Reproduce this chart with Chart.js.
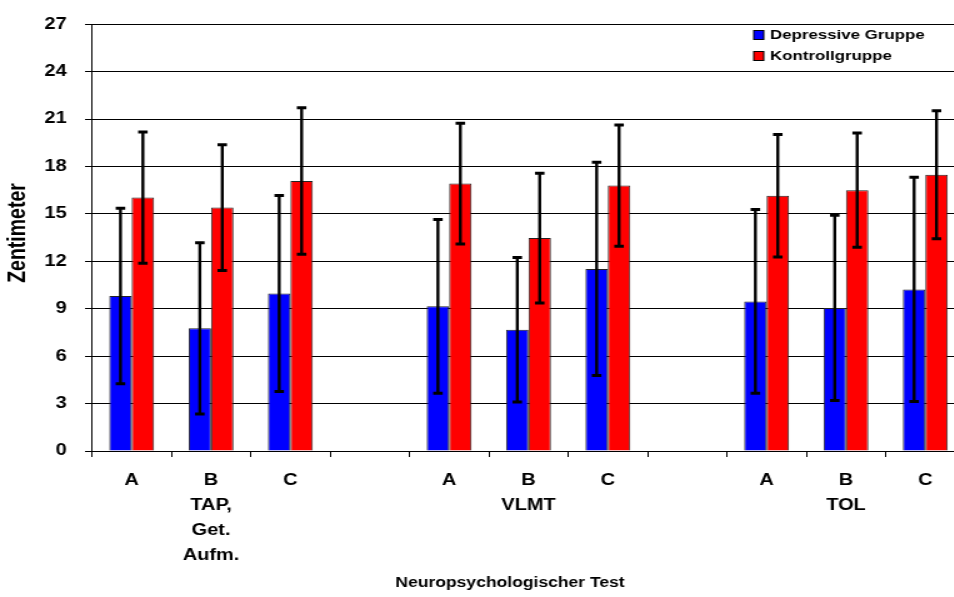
<!DOCTYPE html>
<html>
<head>
<meta charset="utf-8">
<script src="https://cdn.jsdelivr.net/npm/chart.js@4/dist/chart.umd.min.js"></script>
<style>
  html, body { margin: 0; padding: 0; background: #fff; overflow: hidden; width: 954px; height: 597px; }
  #wrap { width: 772px; height: 597px; transform: scaleX(1.25); transform-origin: 0 0; }
</style>
</head>
<body>
<div id="wrap"><canvas id="chart" width="772" height="597"></canvas></div>
<script>
// Category slots (empty slots separate the three tests)
const tickLabels = [
  ['A'], ['B', 'TAP,', 'Get.', 'Aufm.'], ['C'], [''],
  ['A'], ['B', 'VLMT'], ['C'], [''],
  ['A'], ['B', 'TOL'], ['C']
];

const seriesNames = ['Depressive Gruppe', 'Kontrollgruppe'];
const xTitle = 'Neuropsychologischer Test';
const yTitle = 'Zentimeter';

// Means and standard deviations (cm)
const depressiveMeans = [9.8, 7.76, 9.96, null, 9.15, 7.67, 11.52, null, 9.46, 9.05, 10.22];
const depressiveSD    = [5.55, 5.42, 6.2, null, 5.49, 4.57, 6.75, null, 5.81, 5.86, 7.09];
const controlMeans    = [16.03, 15.4, 17.08, null, 16.92, 13.47, 16.79, null, 16.15, 16.5, 17.48];
const controlSD       = [4.15, 3.98, 4.63, null, 3.82, 4.1, 3.84, null, 3.87, 3.61, 4.05];

const yTicks = { min: 0, max: 27, step: 3 };

const FONT = '"Liberation Sans", Arial, Helvetica, sans-serif';

// Error bars (mean ± SD) drawn on top of each bar
const errorBars = {
  id: 'errorBars',
  afterDatasetsDraw(chart) {
    const ctx = chart.ctx;
    const y = chart.scales.y;
    chart.data.datasets.forEach((ds, di) => {
      const meta = chart.getDatasetMeta(di);
      meta.data.forEach((bar, i) => {
        const m = ds.data[i];
        const sd = ds.errors[i];
        if (m == null || sd == null) return;
        const x = bar.x;
        const yTop = y.getPixelForValue(m + sd);
        const yBot = y.getPixelForValue(m - sd);
        ctx.save();
        ctx.strokeStyle = '#000';
        ctx.lineWidth = 2.4;
        ctx.beginPath();
        ctx.moveTo(x, yTop);
        ctx.lineTo(x, yBot);
        ctx.stroke();
        ctx.lineWidth = 3;
        ctx.beginPath();
        ctx.moveTo(x - 3.8, yTop); ctx.lineTo(x + 3.8, yTop);
        ctx.moveTo(x - 3.8, yBot); ctx.lineTo(x + 3.8, yBot);
        ctx.stroke();
        ctx.restore();
      });
    });
  }
};

// Legend inside the plot (top right) and the two axis titles
const annotations = {
  id: 'annotations',
  afterDraw(chart) {
    const ctx = chart.ctx;
    ctx.save();
    ctx.font = 'bold 13.5px ' + FONT;
    ctx.textBaseline = 'middle';
    ctx.textAlign = 'left';
    chart.data.datasets.forEach((ds, i) => {
      const cy = 35 + i * 21;
      ctx.fillStyle = ds.backgroundColor;
      ctx.fillRect(603, cy - 4.5, 8, 9);
      ctx.strokeStyle = '#000';
      ctx.lineWidth = 1;
      ctx.strokeRect(603, cy - 4.5, 8, 9);
      ctx.fillStyle = '#000';
      ctx.fillText(ds.label, 616, cy + 0.5);
    });

    ctx.fillStyle = '#000';
    ctx.textAlign = 'center';
    ctx.font = 'bold 14px ' + FONT;
    ctx.fillText(xTitle, 408, 583);

    ctx.font = 'bold 19.5px ' + FONT;
    ctx.translate(14.6, 233);
    ctx.rotate(-Math.PI / 2);
    ctx.fillText(yTitle, 0, 0);
    ctx.restore();
  }
};

new Chart(document.getElementById('chart'), {
  type: 'bar',
  data: {
    labels: tickLabels,
    datasets: [
      {
        label: seriesNames[0],
        data: depressiveMeans,
        errors: depressiveSD,
        backgroundColor: '#0000ff',
        borderColor: '#222',
        borderWidth: 1
      },
      {
        label: seriesNames[1],
        data: controlMeans,
        errors: controlSD,
        backgroundColor: '#ff0000',
        borderColor: '#222',
        borderWidth: 1
      }
    ]
  },
  options: {
    responsive: false,
    animation: false,
    devicePixelRatio: 1,
    layout: { padding: { top: 20, left: 0, right: 0, bottom: 0 } },
    datasets: { bar: { categoryPercentage: 0.565, barPercentage: 1.0 } },
    plugins: { legend: { display: false }, title: { display: false }, tooltip: { enabled: false } },
    scales: {
      x: {
        afterFit(scale) { scale.height = 146; },
        grid: { offset: true, drawOnChartArea: false, drawTicks: true, tickLength: 6, color: '#000' },
        border: { display: true, color: '#000', width: 1 },
        ticks: {
          autoSkip: false, maxRotation: 0, minRotation: 0, padding: 11, color: '#000',
          font: { family: FONT, size: 16, weight: 'bold', lineHeight: '25px' }
        }
      },
      y: {
        afterFit(scale) { scale.width = 73.6; },
        min: yTicks.min, max: yTicks.max,
        grid: { color: '#000', lineWidth: 1, drawTicks: true, tickLength: 5.6 },
        border: { display: true, color: '#000', width: 1 },
        ticks: {
          stepSize: yTicks.step, padding: 14.6, color: '#000',
          font: { family: FONT, size: 16, weight: 'bold' }
        }
      }
    }
  },
  plugins: [errorBars, annotations]
});
</script>
</body>
</html>
